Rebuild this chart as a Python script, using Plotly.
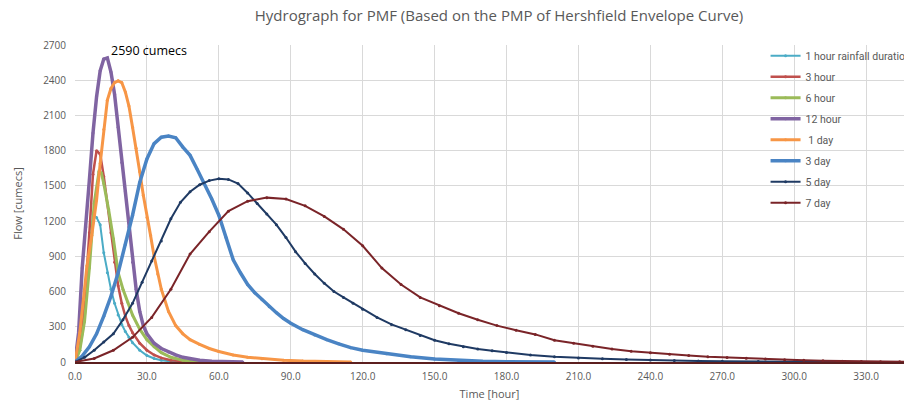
import plotly.graph_objects as go

# ---- data (time in hours, flow in cumecs) ----
t_1h = [0, 2, 4, 6, 7.5, 9, 10.5, 12, 13.5, 15, 16.5, 18, 19.5, 21, 22.5, 24, 27, 30, 33, 36, 40, 45, 50]
q_1h = [0, 100, 350, 900, 1260, 1230, 1170, 930, 760, 620, 500, 400, 320, 260, 210, 165, 100, 55, 30, 15, 5, 0, 0]

t_3h = [0, 1.5, 3, 4.5, 6, 7.5, 9, 10.5, 12, 13.5, 15, 16.5, 18, 19.5, 21, 22.5, 24, 27, 30, 33, 36, 40, 45, 50]
q_3h = [0, 100, 300, 650, 1100, 1600, 1800, 1770, 1580, 1350, 1100, 850, 650, 500, 390, 310, 250, 160, 100, 60, 35, 15, 5, 0]

t_6h = [0, 2, 4, 6, 8, 10, 11, 12, 14, 16, 18, 20, 22, 24, 27, 30, 33, 36, 40, 45, 50, 55]
q_6h = [0, 100, 350, 800, 1350, 1620, 1610, 1520, 1300, 1050, 760, 620, 510, 400, 280, 190, 130, 80, 40, 15, 5, 0]

t_12h = [0, 1.5, 3, 4.5, 6, 7.5, 9, 10.5, 12, 13.5, 15, 16.5, 18, 19.5, 21, 22.5, 24, 25.5, 27, 28.5, 30, 33, 36, 39, 42, 45, 48, 52, 57, 63, 70]
q_12h = [0, 250, 800, 1150, 1550, 1950, 2260, 2480, 2580, 2590, 2470, 2280, 2000, 1700, 1450, 1150, 850, 620, 430, 310, 240, 160, 115, 85, 60, 40, 27, 15, 7, 2, 0]

t_1d = [0, 2, 3.5, 5, 7, 9, 10.5, 12, 13.5, 15, 16.5, 18, 19.5, 21, 22.5, 24, 25.5, 27, 28.5, 30, 31.5, 33, 34.5, 36, 39, 42, 45, 48, 52, 56, 60, 66, 72, 78, 87, 95, 105, 115]
q_1d = [0, 250, 530, 820, 1080, 1380, 1690, 1980, 2230, 2330, 2380, 2395, 2380, 2300, 2180, 2000, 1820, 1620, 1420, 1230, 1080, 900, 750, 620, 430, 310, 240, 190, 150, 115, 90, 60, 40, 28, 15, 8, 3, 0]

t_3d = [0, 3, 6, 9, 12, 15, 18, 21, 24, 27, 30, 33, 36, 39, 42, 45, 48, 51, 54, 57, 60, 63, 66, 69, 72, 75, 78, 81, 84, 87, 90, 95, 100, 105, 110, 115, 120, 130, 140, 150, 160, 170, 180, 200]
q_3d = [0, 50, 130, 240, 390, 560, 760, 1000, 1250, 1530, 1730, 1860, 1915, 1925, 1910, 1830, 1760, 1640, 1520, 1390, 1250, 1060, 870, 760, 660, 590, 530, 470, 420, 370, 330, 275, 230, 190, 155, 122, 100, 70, 45, 25, 12, 6, 3, 0]

t_5d = [0, 4, 8, 12, 16, 20, 24, 28, 32, 36, 40, 44, 48, 52, 56, 60, 64, 68, 72, 76, 80, 84, 88, 92, 96, 100, 104, 108, 112, 116, 120, 126, 132, 138, 144, 150, 156, 162, 168, 174, 180, 190, 200, 210, 220, 230, 240, 250, 260, 270, 285, 300, 320]
q_5d = [0, 40, 100, 170, 240, 360, 500, 680, 860, 1030, 1220, 1360, 1450, 1510, 1545, 1560, 1555, 1520, 1440, 1350, 1260, 1170, 1060, 940, 840, 750, 670, 600, 550, 500, 450, 380, 320, 275, 225, 185, 155, 130, 110, 95, 80, 60, 45, 35, 28, 22, 16, 12, 9, 6, 4, 2, 0]

t_7d = [0, 8, 16, 24, 32, 40, 48, 56, 64, 72, 80, 88, 96, 104, 112, 120, 128, 136, 144, 152, 160, 168, 176, 184, 192, 200, 208, 216, 224, 232, 240, 248, 256, 264, 272, 280, 288, 296, 304, 312, 320, 328, 336, 344, 352]
q_7d = [0, 30, 100, 210, 380, 620, 920, 1110, 1285, 1370, 1400, 1388, 1330, 1240, 1130, 990, 800, 660, 550, 480, 415, 360, 310, 270, 235, 185, 160, 135, 110, 92, 78, 66, 55, 45, 38, 32, 25, 20, 14, 10, 7, 5, 3, 2, 1]

names = ["1 hour rainfall duration", "3 hour", "6 hour", "12 hour", " 1 day", "3 day", "5 day", "7 day"]
colors = ["#4BACC6", "#C0504D", "#9BBB59", "#8064A2", "#F79646", "#4A84C4", "#1F3A63", "#7A2428"]
widths = [2, 2.5, 3, 3.5, 3, 3.5, 2, 2]
series = [(t_1h, q_1h), (t_3h, q_3h), (t_6h, q_6h), (t_12h, q_12h),
          (t_1d, q_1d), (t_3d, q_3d), (t_5d, q_5d), (t_7d, q_7d)]

x_ticks = list(range(0, 331, 30))
y_ticks = list(range(0, 2701, 300))

fig = go.Figure()
for i, ((t, q), name) in enumerate(zip(series, names)):
    fig.add_trace(go.Scatter(
        x=t, y=q, name=name, mode="lines+markers",
        line=dict(color=colors[i], width=widths[i]),
        marker=dict(size=3, color=colors[i]),
        legendgroup=str(i),
    ))

fig.add_annotation(x=31, y=2655, text="2590 cumecs", showarrow=False,
                   font=dict(size=12.5, color="#000000", family="Open Sans"),
                   xanchor="center", yanchor="middle")

fig.update_layout(
    width=904, height=403,
    margin=dict(l=75, r=0, t=45, b=41, autoexpand=False),
    paper_bgcolor="white", plot_bgcolor="white",
    title=dict(text="Hydrograph for PMF (Based on the PMP of Hershfield Envelope Curve)",
               x=0.552, xanchor="center", y=0.962, yanchor="middle",
               font=dict(family="Open Sans", size=15, color="#595959")),
    font=dict(family="Open Sans", size=10, color="#595959"),
    legend=dict(x=0.833, xanchor="left", y=1.012, yanchor="top",
                bgcolor="rgba(0,0,0,0)",
                font=dict(family="Roboto", size=10.5, color="#595959"),
                tracegroupgap=2, itemwidth=30),
    xaxis=dict(range=[0, 345.8], tickvals=x_ticks, tickformat=".1f",
               showgrid=True, gridcolor="#D9D9D9", gridwidth=1,
               showline=True, linecolor="#5C1F1F", linewidth=2,
               ticks="outside", ticklen=4, tickcolor="rgba(0,0,0,0)",
               zeroline=False,
               title=dict(text="Time [hour]", standoff=8, font=dict(size=11, color="#595959"))),
    yaxis=dict(range=[0, 2700], tickvals=y_ticks,
               showgrid=True, gridcolor="#D9D9D9", gridwidth=1,
               zeroline=False, showline=False,
               ticks="outside", ticklen=6, tickcolor="rgba(0,0,0,0)",
               title=dict(text="Flow [cumecs]", standoff=18, font=dict(size=11, color="#595959"))),
)

fig.write_html("out.html")
